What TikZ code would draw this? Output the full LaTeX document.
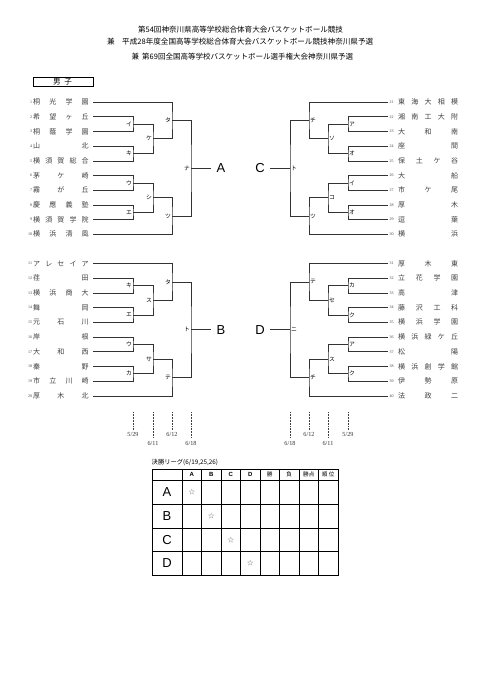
\documentclass[tikz,border=0pt]{standalone}
\usepackage{graphicx}
\usepackage{fontspec}
\setmainfont{Liberation Serif}
\newfontfamily\jpf{Noto Sans CJK JP}
\newfontfamily\arialf{Liberation Sans}
\makeatletter
\def\spreadjp#1{\spreadjp@a#1\relax}
\def\spreadjp@a#1{\ifx\relax#1\else#1\expandafter\spreadjp@b\fi}
\def\spreadjp@b#1{\ifx\relax#1\else\hfill#1\expandafter\spreadjp@b\fi}
\makeatother
\newcommand\teamL[4]{%
  \node[tnum, anchor=east] (n#1) at (32.3,#3) {#2};
  \node[tname, anchor=west] (t#1) at (33,#3) {\makebox[55.5pt]{\spreadjp{#4}}};
  \coordinate (a#1) at (93,#3);}
\newcommand\teamR[4]{%
  \node[tnum, anchor=west] (n#1) at (389.5,#3) {#2};
  \node[tname, anchor=west] (t#1) at (398,#3) {\makebox[60pt]{\spreadjp{#4}}};
  \coordinate (a#1) at (388,#3);}
\tikzset{
  br/.style={draw=black!80, line width=0.55pt},
  lbl/.style={font=\jpf\fontsize{5.8}{6}\selectfont, inner sep=0.4pt},
  tnum/.style={font=\fontsize{4}{4}\selectfont, inner sep=0, text=black!75},
  tname/.style={font=\jpf\fontsize{7}{8}\selectfont, inner sep=0, text=black!75},
  bigl/.style={font=\arialf\fontsize{13}{13}\selectfont, inner sep=0},
  datel/.style={font=\fontsize{6.2}{7}\selectfont, inner sep=0, text=black!80},
  dline/.style={densely dotted, line width=0.55pt, draw=black!75},
  ttl/.style={font=\jpf\fontsize{7.6}{8}\selectfont, inner sep=0},
  tbo/.style={draw=black, line width=0.8pt},
  tbi/.style={draw=black, line width=0.6pt},
  hdr/.style={font=\arialf\bfseries\fontsize{6}{6}\selectfont, inner sep=0},
  hdrj/.style={font=\jpf\fontsize{5.6}{6}\selectfont, inner sep=0},
  star/.style={font=\jpf\fontsize{6.5}{7}\selectfont, inner sep=0, text=black!60},
}
\begin{document}
\begin{tikzpicture}[x=1pt,y=-1pt]
\fill[white] (0,0) rectangle (481,680);
\useasboundingbox (0,0) rectangle (481,680);

% titles
\node[ttl] (ti1) at (240.5,30) {\resizebox{205pt}{!}{第54回神奈川県高等学校総合体育大会バスケットボール競技}};
\node[ttl] (ti2k) at (111,42) {兼};
\node[ttl, anchor=west] (ti2) at (122,42) {\resizebox{251pt}{!}{平成28年度全国高等学校総合体育大会バスケットボール競技神奈川県予選}};
\node[ttl] (ti3k) at (135.5,56.7) {兼};
\node[ttl, anchor=west] (ti3) at (142,56.7) {\resizebox{211pt}{!}{第69回全国高等学校バスケットボール選手権大会神奈川県予選}};

% boys box
\draw[line width=0.6pt] (33,77.3) rectangle (93,86);
\node[font=\jpf\fontsize{7.5}{8}\selectfont, inner sep=0] (boys) at (62.5,81.7) {男\hspace{4pt}子};

% teams left
\teamL{1}{1}{102.0}{桐光学園}
\teamL{2}{2}{116.7}{希望ヶ丘}
\teamL{3}{3}{131.4}{桐蔭学園}
\teamL{4}{4}{146.1}{山北}
\teamL{5}{5}{160.8}{横須賀総合}
\teamL{6}{6}{175.5}{茅ケ崎}
\teamL{7}{7}{190.2}{霧が丘}
\teamL{8}{8}{204.9}{慶應義塾}
\teamL{9}{9}{219.6}{横須賀学院}
\teamL{10}{10}{234.3}{横浜清風}
\teamL{11}{11}{263.5}{アレセイア}
\teamL{12}{12}{278.2}{荏田}
\teamL{13}{13}{292.9}{横浜商大}
\teamL{14}{14}{307.6}{舞岡}
\teamL{15}{15}{322.3}{元石川}
\teamL{16}{16}{337.0}{岸根}
\teamL{17}{17}{351.7}{大和西}
\teamL{18}{18}{366.4}{秦野}
\teamL{19}{19}{381.1}{市立川崎}
\teamL{20}{20}{395.8}{厚木北}
% teams right
\teamR{21}{21}{102.0}{東海大相模}
\teamR{22}{22}{116.7}{湘南工大附}
\teamR{23}{23}{131.4}{大和南}
\teamR{24}{24}{146.1}{座間}
\teamR{25}{25}{160.8}{保土ケ谷}
\teamR{26}{26}{175.5}{大船}
\teamR{27}{27}{190.2}{市ケ尾}
\teamR{28}{28}{204.9}{厚木}
\teamR{29}{29}{219.6}{逗葉}
\teamR{30}{30}{234.3}{横浜}
\teamR{31}{31}{263.5}{厚木東}
\teamR{32}{32}{278.2}{立花学園}
\teamR{33}{33}{292.9}{高津}
\teamR{34}{34}{307.6}{藤沢工科}
\teamR{35}{35}{322.3}{横浜学園}
\teamR{36}{36}{337.0}{横浜緑ケ丘}
\teamR{37}{37}{351.7}{松陽}
\teamR{38}{38}{366.4}{横浜創学館}
\teamR{39}{39}{381.1}{伊勢原}
\teamR{40}{40}{395.8}{法政二}

% junction coordinates
\coordinate (Li) at (133,124.05);  \coordinate (Lki) at (133,153.45);
\coordinate (Lke) at (153,138.75); \coordinate (Lta) at (172,120.375);
\coordinate (Lu) at (133,182.85);  \coordinate (Le) at (133,212.25);
\coordinate (Lshi) at (153,197.55);\coordinate (Ltsu) at (172,215.925);
\coordinate (Lna) at (191,168.15); \coordinate (Aend) at (211,168.15);

\coordinate (Bki) at (133,285.55); \coordinate (Be) at (133,314.95);
\coordinate (Bsu) at (153,300.25); \coordinate (Bta) at (172,281.875);
\coordinate (Bu) at (133,344.35);  \coordinate (Bka) at (133,373.75);
\coordinate (Bsa) at (153,359.05); \coordinate (Bte) at (172,377.425);
\coordinate (Bto) at (191,329.65); \coordinate (Bend) at (211,329.65);

\coordinate (Ca) at (348,124.05);  \coordinate (Co1) at (348,153.45);
\coordinate (Cso) at (328,138.75); \coordinate (Cchi) at (309,120.375);
\coordinate (Ci) at (348,182.85);  \coordinate (Co2) at (348,212.25);
\coordinate (Cko) at (328,197.55); \coordinate (Ctsu) at (309,215.925);
\coordinate (Cto) at (290,168.15); \coordinate (Cend) at (270,168.15);

\coordinate (Dka) at (348,285.55); \coordinate (Dku1) at (348,314.95);
\coordinate (Dse) at (328,300.25); \coordinate (Dte) at (309,281.875);
\coordinate (Da) at (348,344.35);  \coordinate (Dku2) at (348,373.75);
\coordinate (Dsu) at (328,359.05); \coordinate (Dchi) at (309,377.425);
\coordinate (Dni) at (290,329.65); \coordinate (Dend) at (270,329.65);

% brackets left upper
\draw[br] (a2) -| (Li) |- (a3);
\draw[br] (a4) -| (Lki) |- (a5);
\draw[br] (Li) -| (Lke) |- (Lki);
\draw[br] (a1) -| (Lta) |- (Lke);
\draw[br] (a6) -| (Lu) |- (a7);
\draw[br] (a8) -| (Le) |- (a9);
\draw[br] (Lu) -| (Lshi) |- (Le);
\draw[br] (Lshi) -| (Ltsu) |- (a10);
\draw[br] (Lta) -| (Lna) |- (Ltsu);
\draw[br] (Lna) -- (Aend);
% left lower
\draw[br] (a12) -| (Bki) |- (a13);
\draw[br] (a14) -| (Be) |- (a15);
\draw[br] (Bki) -| (Bsu) |- (Be);
\draw[br] (a11) -| (Bta) |- (Bsu);
\draw[br] (a16) -| (Bu) |- (a17);
\draw[br] (a18) -| (Bka) |- (a19);
\draw[br] (Bu) -| (Bsa) |- (Bka);
\draw[br] (Bsa) -| (Bte) |- (a20);
\draw[br] (Bta) -| (Bto) |- (Bte);
\draw[br] (Bto) -- (Bend);
% right upper
\draw[br] (a22) -| (Ca) |- (a23);
\draw[br] (a24) -| (Co1) |- (a25);
\draw[br] (Ca) -| (Cso) |- (Co1);
\draw[br] (a21) -| (Cchi) |- (Cso);
\draw[br] (a26) -| (Ci) |- (a27);
\draw[br] (a28) -| (Co2) |- (a29);
\draw[br] (Ci) -| (Cko) |- (Co2);
\draw[br] (Cko) -| (Ctsu) |- (a30);
\draw[br] (Cchi) -| (Cto) |- (Ctsu);
\draw[br] (Cto) -- (Cend);
% right lower
\draw[br] (a32) -| (Dka) |- (a33);
\draw[br] (a34) -| (Dku1) |- (a35);
\draw[br] (Dka) -| (Dse) |- (Dku1);
\draw[br] (a31) -| (Dte) |- (Dse);
\draw[br] (a36) -| (Da) |- (a37);
\draw[br] (a38) -| (Dku2) |- (a39);
\draw[br] (Da) -| (Dsu) |- (Dku2);
\draw[br] (Dsu) -| (Dchi) |- (a40);
\draw[br] (Dte) -| (Dni) |- (Dchi);
\draw[br] (Dni) -- (Dend);

% match labels left
\foreach \c/\t in {Li/イ,Lki/キ,Lke/ケ,Lta/タ,Lu/ウ,Le/エ,Lshi/シ,Ltsu/ツ,Lna/ナ,
                   Bki/キ,Be/エ,Bsu/ス,Bta/タ,Bu/ウ,Bka/カ,Bsa/サ,Bte/テ,Bto/ト}
  \node[lbl, anchor=east] (lb\c) at ([xshift=-0.6pt]\c) {\t};
% match labels right
\foreach \c/\t in {Ca/ア,Co1/オ,Cso/ソ,Cchi/チ,Ci/イ,Co2/オ,Cko/コ,Ctsu/ツ,Cto/ト,
                   Dka/カ,Dku1/ク,Dse/セ,Dte/テ,Da/ア,Dku2/ク,Dsu/ス,Dchi/チ,Dni/ニ}
  \node[lbl, anchor=west] (lb\c) at ([xshift=0.6pt]\c) {\t};

% block letters
\node[bigl, anchor=west] (bA) at (216.5,168.15) {A};
\node[bigl, anchor=west] (bB) at (216.5,329.65) {B};
\node[bigl, anchor=east] (bC) at (265,168.15) {C};
\node[bigl, anchor=east] (bD) at (265,329.65) {D};

% date markers
\foreach \i/\x/\b/\ly/\d in {1/133/430/434.5/5\slash 29, 2/153/438/443.5/6\slash 11,
    3/172/430/434.5/6\slash 12, 4/191/438/443.5/6\slash 18,
    5/290/438/443.5/6\slash 18, 6/309/430/434.5/6\slash 12,
    7/328/438/443.5/6\slash 11, 8/348/430/434.5/5\slash 29}{
  \coordinate (dt\i) at (\x,412);
  \coordinate (db\i) at (\x,\b);
  \draw[dline] (dt\i) -- (db\i);
  \node[datel] (dl\i) at (\x,\ly) {\d};
}

% final league table
\node[font=\jpf\fontsize{6.3}{7}\selectfont, inner sep=0, anchor=west] (cap) at (151.5,462) {決勝リーグ(6/19,25,26)};
\foreach \x in {182,201.5,221,240.5,260,279.5,299,318.5}
  \draw[tbi] (\x,469) -- (\x,575);
\foreach \y in {480,504,528,551.5}
  \draw[tbi] (152,\y) -- (338,\y);
\draw[tbo] (152,469) rectangle (338,575);
\node[hdr] (hA) at (191.75,474.5) {A};
\node[hdr] (hB) at (211.25,474.5) {B};
\node[hdr] (hC) at (230.75,474.5) {C};
\node[hdr] (hD) at (250.25,474.5) {D};
\node[hdrj] (hW) at (269.75,474.5) {勝};
\node[hdrj] (hL) at (289.25,474.5) {負};
\node[hdrj] (hP) at (308.75,474.5) {勝点};
\node[hdrj] (hR) at (328.25,474.5) {順\hspace{1.5pt}位};
\node[bigl] (rA) at (167,492) {A};
\node[bigl] (rB) at (167,516) {B};
\node[bigl] (rC) at (167,539.75) {C};
\node[bigl] (rD) at (167,563.25) {D};
\node[star] (sA) at (191.75,492) {☆};
\node[star] (sB) at (211.25,516) {☆};
\node[star] (sC) at (230.75,539.75) {☆};
\node[star] (sD) at (250.25,563.25) {☆};
\end{tikzpicture}
\end{document}
